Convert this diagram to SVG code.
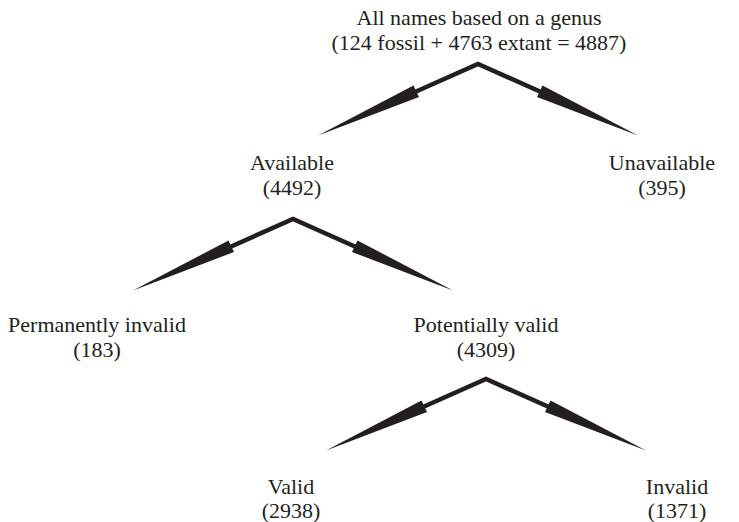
<svg xmlns="http://www.w3.org/2000/svg" xmlns:xlink="http://www.w3.org/1999/xlink" width="739" height="522" viewBox="0 0 739 522">
<style>
text{font-family:"Liberation Serif","Times New Roman",serif;font-size:22px;fill:#231f20;text-anchor:middle}
.stem{fill:none;stroke:#231f20;stroke-width:4.5;stroke-linejoin:miter;stroke-miterlimit:10}
.head{fill:#231f20}
</style>
<defs>
<g id="fork">
<polyline class="stem" points="-63,28 0,0 63,28"/>
<polygon class="head" points="-64.5,21.5 -59,33 -160,71.5"/>
<polygon class="head" points="64.5,21.5 59,33 160,71.5"/>
</g>
</defs>
<rect width="739" height="522" fill="#ffffff"/>
<g id="connectors">
<use xlink:href="#fork" href="#fork" x="478" y="64"/>
<use xlink:href="#fork" href="#fork" x="293" y="219"/>
<use xlink:href="#fork" href="#fork" x="486" y="379"/>
</g>
<g id="all"><text x="479" y="25">All names based on a genus</text><text x="479" y="50">(124 fossil + 4763 extant = 4887)</text></g>
<g id="available"><text x="292" y="170">Available</text><text x="292" y="195">(4492)</text></g>
<g id="unavailable"><text x="662" y="170">Unavailable</text><text x="662" y="195">(395)</text></g>
<g id="permanently-invalid"><text x="97" y="332">Permanently invalid</text><text x="97" y="357">(183)</text></g>
<g id="potentially-valid"><text x="486" y="332">Potentially valid</text><text x="486" y="357">(4309)</text></g>
<g id="valid"><text x="291" y="494">Valid</text><text x="291" y="518">(2938)</text></g>
<g id="invalid"><text x="677" y="494">Invalid</text><text x="677" y="518">(1371)</text></g>
</svg>
